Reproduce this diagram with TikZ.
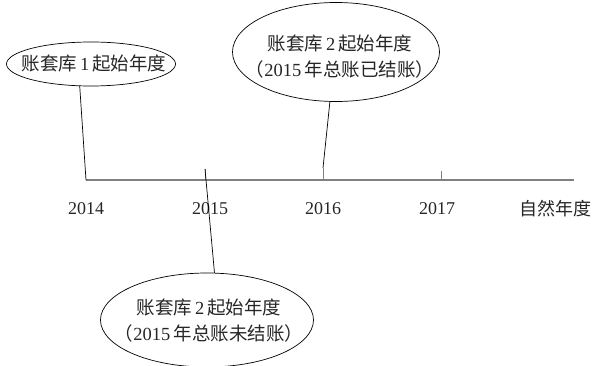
\documentclass[tikz,border=0pt]{standalone}
\usepackage{fontspec}
\setmainfont{Liberation Serif}
\newfontfamily\cjk{Noto Sans CJK SC}
\usetikzlibrary{shapes.geometric}
\tikzset{
  ell/.style={ellipse, draw=black, line width=0.7pt, inner sep=0pt},
  elltext/.style={inner sep=0pt, align=center, text=black!85,
    font=\fontsize{18.5pt}{26pt}\selectfont},
  axisline/.style={draw=black!50, line width=1.5pt},
  tickline/.style={draw=black!50, line width=1pt},
  conn/.style={draw=black, line width=0.7pt},
  yearlbl/.style={inner sep=0pt, text=black!85, font=\fontsize{18pt}{20pt}\selectfont}
}
\begin{document}
\begin{tikzpicture}[x=1pt,y=-1pt]
\useasboundingbox (0,0) rectangle (594,366);
% axis
\coordinate (a14) at (86,180);
\coordinate (aend) at (574,180);
\coordinate (t15b) at (205,180);
\coordinate (t15) at (205,169);
\coordinate (t16b) at (323,180);
\coordinate (t16) at (323,168);
\coordinate (t17b) at (441,180);
\coordinate (t17) at (441,171);
\draw[axisline] (a14) -- (aend);
\draw[tickline] (t15b) -- (t15);
\draw[tickline] (t16b) -- (t16);
\draw[tickline] (t17b) -- (t17);
% year labels
\node[yearlbl] (y14) at (86,209) {2014};
\node[yearlbl] (y15) at (210,209) {2015};
\node[yearlbl] (y16) at (323,209) {2016};
\node[yearlbl] (y17) at (437,209) {2017};
\node[yearlbl] (yn) at (555,209) {\cjk 自然年度};
% ellipses
\node[ell, minimum width=169pt, minimum height=44pt] (e1) at (91,64) {};
\node[elltext] (e1t) at (94,63) {{\cjk 账套库}\,1\,{\cjk 起始年度}};
\node[ell, minimum width=207pt, minimum height=99pt] (e2) at (336,52) {};
\node[elltext] (e2t) at (340,57)
  {{\cjk 账套库}\,2\,{\cjk 起始年度}\\{\cjk （}2015\,{\cjk 年总账已结账）}};
\node[ell, minimum width=213pt, minimum height=94pt] (e3) at (207,320) {};
\node[elltext] (e3t) at (209,321)
  {{\cjk 账套库}\,2\,{\cjk 起始年度}\\{\cjk （}2015\,{\cjk 年总账未结账）}};
% connectors
\draw[conn] (e1.243) -- (a14);
\draw[conn] (e2.263) -- (t16);
\draw[conn] (t15) -- (e3.81);
\end{tikzpicture}
\end{document}
